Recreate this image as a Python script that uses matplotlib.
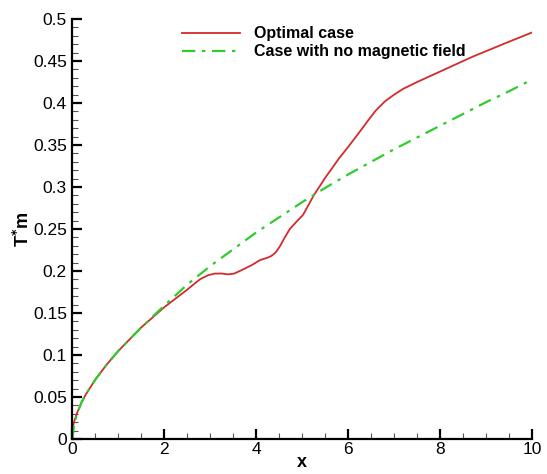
import matplotlib
matplotlib.use('Agg')
import matplotlib.pyplot as plt
from matplotlib.ticker import MultipleLocator

# Данные
x_green = [0, 0.03, 0.1, 0.2, 0.3, 0.5, 0.75, 1.0, 1.5, 2.0, 2.5, 3.0, 3.5, 4.0, 4.5,
           5.0, 5.5, 6.0, 6.5, 7.0, 7.5, 8.0, 8.5, 9.0, 9.5, 10.0]
y_green = [0, 0.015, 0.03, 0.044, 0.054, 0.071, 0.089, 0.105, 0.133, 0.159, 0.184, 0.206,
           0.226, 0.246, 0.264, 0.282, 0.299, 0.315, 0.330, 0.345, 0.359, 0.373, 0.387,
           0.401, 0.414, 0.428]

x_red = [0, 0.03, 0.1, 0.2, 0.3, 0.5, 0.75, 1.0, 1.5, 2.0, 2.5, 2.77, 2.95, 3.1, 3.25,
         3.39, 3.52, 3.64, 3.9, 4.08, 4.25, 4.33, 4.42, 4.51, 4.62, 4.73, 4.88, 5.02, 5.12,
         5.25, 5.5, 5.8, 5.96, 6.2, 6.43, 6.6, 6.8, 7.0, 7.2, 7.5, 7.9, 8.3, 8.7, 9.1,
         9.5, 10.0]
y_red = [0.01, 0.02, 0.031, 0.044, 0.054, 0.071, 0.089, 0.105, 0.133, 0.157, 0.178, 0.190,
         0.195, 0.197, 0.197, 0.196, 0.197, 0.200, 0.207, 0.213, 0.216, 0.218, 0.222, 0.229,
         0.240, 0.250, 0.259, 0.267, 0.277, 0.290, 0.311, 0.334, 0.345, 0.362, 0.379, 0.391,
         0.402, 0.410, 0.417, 0.425, 0.435, 0.445, 0.455, 0.464, 0.473, 0.484]

plt.rcParams['font.family'] = ['Liberation Sans', 'DejaVu Sans']

fig = plt.figure(figsize=(5.47, 4.74), dpi=100)
ax = fig.add_axes([0.1325, 0.0738, 0.840, 0.886])

ax.plot(x_red, y_red, color='#d42a2a', linewidth=1.3, label='Optimal case')
ax.plot(x_green, y_green, color='#2ecc2e', linewidth=1.6, linestyle=(0, (6, 3, 1.5, 3)),
        label='Case with no magnetic field')

ax.set_xlim(0, 10)
ax.set_ylim(0, 0.5)
ax.xaxis.set_major_locator(MultipleLocator(2))
ax.xaxis.set_minor_locator(MultipleLocator(0.5))
ax.yaxis.set_minor_locator(MultipleLocator(0.01))
ax.set_yticks([0, 0.05, 0.1, 0.15, 0.2, 0.25, 0.3, 0.35, 0.4, 0.45, 0.5])
ax.set_yticklabels(['0', '0.05', '0.1', '0.15', '0.2', '0.25', '0.3', '0.35', '0.4', '0.45', '0.5'])

for s in ['top', 'right']:
    ax.spines[s].set_visible(False)
for s in ['left', 'bottom']:
    ax.spines[s].set_linewidth(1.6)

ax.tick_params(which='major', direction='in', length=7, width=1.6, labelsize=12.5, pad=4,
               colors='black')
ax.tick_params(axis='x', which='major', pad=2)
ax.tick_params(which='minor', direction='in', length=4, width=0.8, color='#555555')

ax.set_xlabel('x', fontsize=13, fontweight='bold', labelpad=-2)
ax.set_ylabel(r'T$^{\mathbf{*}}$m', fontsize=13, fontweight='bold', labelpad=0)

ax.legend(loc='upper left', bbox_to_anchor=(0.225, 0.998), frameon=False,
          prop={'weight': 'bold', 'size': 11.5}, handlelength=3.6, handletextpad=0.9,
          labelspacing=0.2, borderaxespad=0)

fig.savefig('out.png', dpi=100)
